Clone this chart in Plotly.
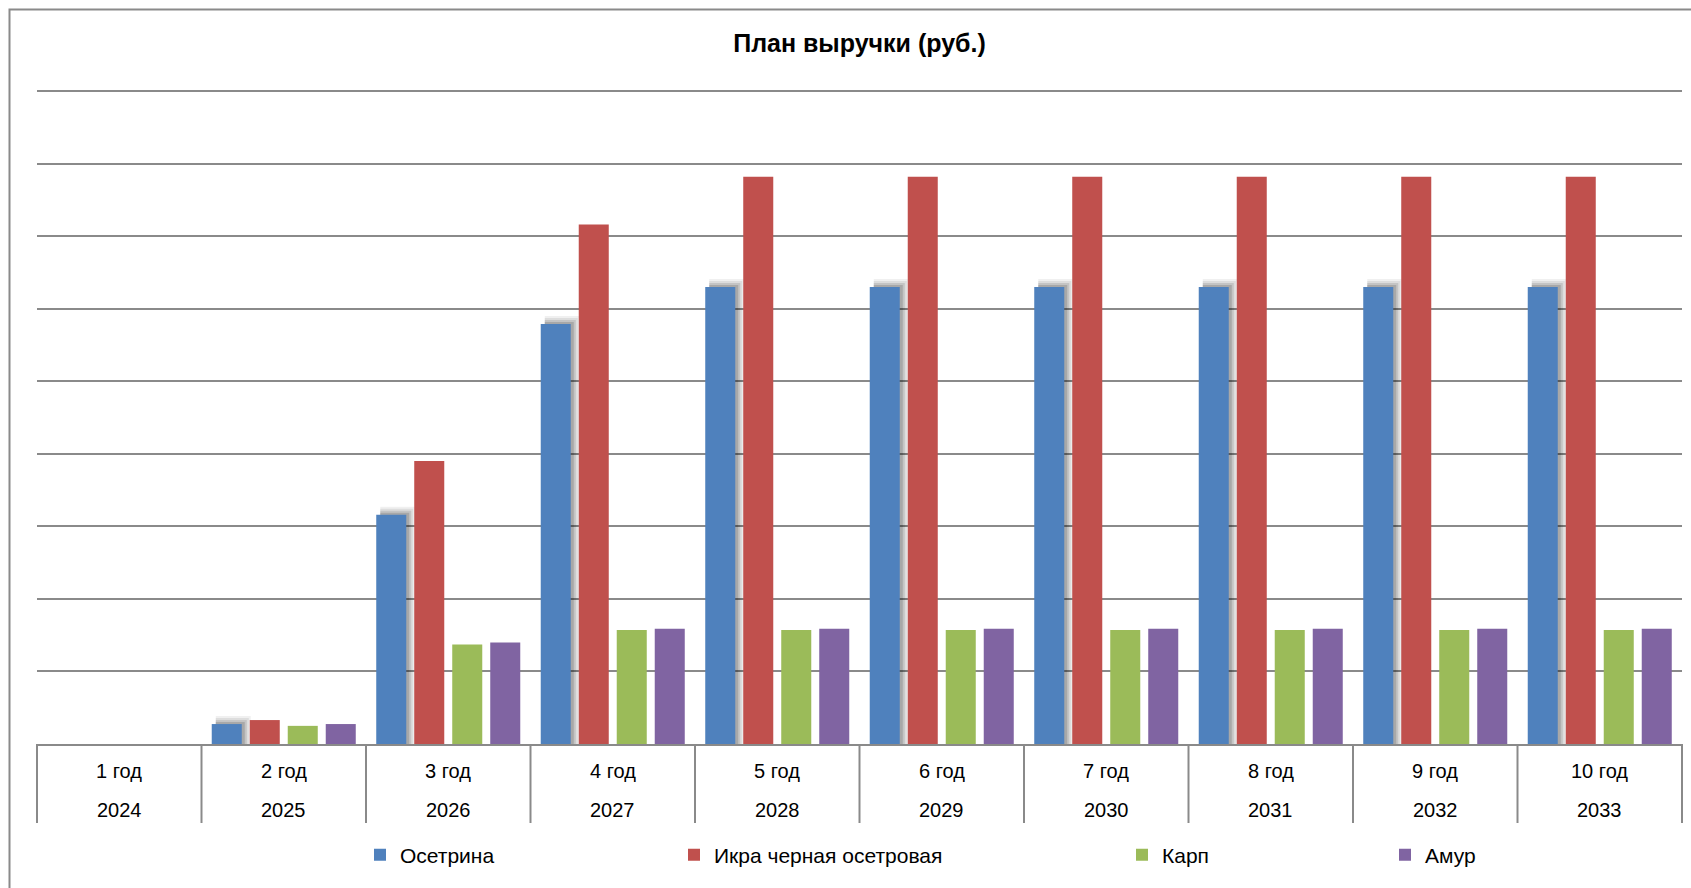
import plotly.graph_objects as go

# ---- data (values in conventional units; one gridline step = 10) ----
periods = ["1 год", "2 год", "3 год", "4 год", "5 год", "6 год", "7 год", "8 год", "9 год", "10 год"]
years = ["2024", "2025", "2026", "2027", "2028", "2029", "2030", "2031", "2032", "2033"]
series_names = ["Осетрина", "Икра черная осетровая", "Карп", "Амур"]
osetrina = [0, 2.75, 31.6, 57.9, 63.0, 63.0, 63.0, 63.0, 63.0, 63.0]
ikra = [0, 3.3, 39.0, 71.6, 78.2, 78.2, 78.2, 78.2, 78.2, 78.2]
karp = [0, 2.5, 13.7, 15.7, 15.7, 15.7, 15.7, 15.7, 15.7, 15.7]
amur = [0, 2.75, 14.0, 15.9, 15.9, 15.9, 15.9, 15.9, 15.9, 15.9]
title_text = "План выручки (руб.)"

colors = ["#4F81BD", "#C0504D", "#9BBB59", "#8064A2"]
FONT = "Liberation Sans, Arial, sans-serif"
GRID = "#8A8A8A"
W, H = 1691, 888
ML, MR, MT, MB = 37, 9, 90, 144
YMAX = 90.14
BARGAP, GROUPGAP = 0.076, 0.21

pw = W - ML - MR
ph = H - MT - MB
px_x = len(periods) / pw        # category units per pixel
px_y = YMAX / ph                # value units per pixel

fig = go.Figure()

# soft drop shadow (up-right) behind the first series, drawn in overlay, excluded from grouping
slot = (1 - BARGAP) / 4
bar_w = slot * (1 - GROUPGAP)
blue_left = -(1 - BARGAP) / 2 + slot * GROUPGAP / 2
for spread, alpha in [(7, 0.06), (5, 0.08), (3, 0.11), (1, 0.14)]:
    fig.add_trace(go.Bar(
        x=periods,
        y=[v + (1 + spread) * px_y if v > 0 else 0 for v in osetrina],
        offset=blue_left + 4 * px_x,
        width=bar_w + (spread - 2) * px_x,
        marker=dict(color="rgba(0,0,0,%g)" % alpha, line=dict(width=0)),
        showlegend=False, hoverinfo="skip"))

legend_ids = ["legend", "legend2", "legend3", "legend4"]
for name, vals, col, lg in zip(series_names, [osetrina, ikra, karp, amur], colors, legend_ids):
    fig.add_trace(go.Bar(x=periods, y=vals, name=name, marker=dict(color=col, line=dict(width=0)),
                         legend=lg, showlegend=True))

# category table below the axis
annotations = []
for p, yr in zip(periods, years):
    annotations.append(dict(x=p, y=0, xref="x", yref="y", yshift=-27, text=p, showarrow=False,
                            font=dict(family=FONT, size=20, color="#000"), yanchor="middle"))
    annotations.append(dict(x=p, y=0, xref="x", yref="y", yshift=-65.5, text=yr, showarrow=False,
                            font=dict(family=FONT, size=20, color="#000"), yanchor="middle"))

shapes = []
n = len(periods)
for i in range(n + 1):
    shapes.append(dict(type="line", xref="x domain", yref="paper", x0=i / n, x1=i / n,
                       y0=0, y1=-79 / ph, line=dict(color=GRID, width=2)))

# outer chart frame (right and bottom edges lie outside the picture)
shapes.append(dict(type="rect", xref="paper", yref="paper",
                   x0=(9.5 - ML) / pw, x1=1.2, y0=-0.6, y1=(H - MB - 9.5) / ph,
                   line=dict(color=GRID, width=2), fillcolor="rgba(0,0,0,0)", layer="below"))

legend_x = [374, 688, 1136, 1399]
leg_common = dict(orientation="h", xref="container", yref="container", xanchor="left", yanchor="middle",
                  y=1 - 855 / H, font=dict(family=FONT, size=21, color="#000"),
                  bgcolor="rgba(0,0,0,0)", borderwidth=0, itemwidth=30)
legends = {}
for lg, lx in zip(legend_ids, legend_x):
    legends[lg] = dict(leg_common, x=(lx - 14) / W)

fig.update_layout(
    width=W, height=H,
    margin=dict(l=ML, r=MR, t=MT, b=MB, pad=0),
    paper_bgcolor="white", plot_bgcolor="white",
    font=dict(family=FONT, size=20, color="#000"),
    title=dict(text="<b>" + title_text + "</b>", x=0.5, xref="paper", xanchor="center",
               y=1 - 43 / H, yref="container", yanchor="middle",
               font=dict(family=FONT, size=25, color="#000")),
    barmode="group", bargap=BARGAP, bargroupgap=GROUPGAP,
    xaxis=dict(type="category", showticklabels=False, ticks="", showgrid=False, zeroline=False,
               showline=True, linecolor=GRID, linewidth=2, range=[-0.5, n - 0.5],
               fixedrange=True),
    yaxis=dict(range=[0, YMAX], tick0=0, dtick=10, showticklabels=False, ticks="", showgrid=True,
               gridcolor=GRID, gridwidth=2, zeroline=False, showline=False, fixedrange=True),
    annotations=annotations,
    shapes=shapes,
    **legends,
)

fig.write_html("out.html", config={"displayModeBar": False},
               post_script="document.body.style.margin='0';document.body.style.overflow='hidden';")
